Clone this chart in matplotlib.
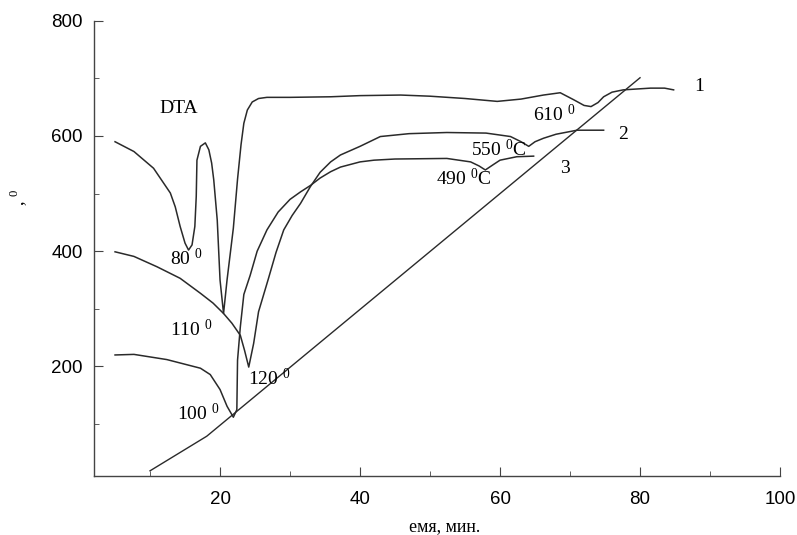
import numpy as np
import matplotlib
matplotlib.use("Agg")
import matplotlib.pyplot as plt
from matplotlib.ticker import MultipleLocator

plt.rcParams['mathtext.fontset'] = 'custom'
plt.rcParams['mathtext.rm'] = 'Liberation Serif'
plt.rcParams['mathtext.it'] = 'Liberation Serif:italic'

# curve 1 (DTA, upper)
x1 = [5.0, 7.7, 10.5, 12.9, 13.6, 14.3, 15.0, 15.5, 16.0, 16.4, 16.6, 16.7, 17.2, 17.9,
      18.4, 18.8, 19.1, 19.6, 20.0, 20.5, 21.0, 21.9, 22.5, 23.0, 23.4, 23.9, 24.6, 25.5,
      26.7, 30.0, 35.8, 40.0, 45.8, 50.0, 55.0, 59.6, 63.0, 66.2, 68.6, 70.5, 72.0, 73.0,
      74.0, 74.8, 76.0, 77.6, 81.5, 83.5, 84.8]
y1 = [590, 573, 544, 501, 477, 443, 414, 402, 411, 443, 495, 558, 582, 588,
      576, 553, 524, 454, 350, 292, 350, 440, 525, 585, 622, 645, 659, 665,
      667, 667, 668, 670, 671, 669, 665, 660, 664, 671, 675, 663, 653, 651,
      658, 668, 676, 680, 683, 683, 680]

# curve 2 (middle)
x2 = [5.0, 7.7, 11.0, 14.3, 17.2, 19.0, 20.5, 21.7, 22.9, 23.5, 24.1, 24.8, 25.5, 26.9,
      28.0, 29.1, 30.3, 31.5, 32.9, 34.3, 35.8, 37.2, 40.0, 42.9, 47.0, 52.4, 58.0, 61.5,
      63.0, 64.1, 65.0, 66.2, 68.0, 71.0, 74.8]
y2 = [399, 391, 373, 353, 327, 310, 292, 275, 254, 228, 199, 240, 295, 352,
      398, 437, 462, 483, 512, 537, 555, 567, 582, 599, 604, 606, 605, 599,
      590, 582, 590, 596, 603, 610, 610]

# curve 3 (lower)
x3 = [5.0, 7.7, 12.4, 17.2, 18.6, 20.0, 21.0, 21.9, 22.4, 22.5, 22.9, 23.4, 24.3, 25.3,
      26.7, 28.3, 30.0, 31.5, 32.9, 34.3, 35.8, 37.2, 40.0, 42.0, 45.0, 52.4, 55.8, 57.0,
      57.9, 59.0, 60.0, 62.4, 64.8]
y3 = [220, 221, 212, 197, 186, 160, 131, 112, 125, 211, 269, 325, 358, 400,
      437, 468, 490, 503, 514, 527, 538, 546, 555, 558, 560, 561, 555, 548,
      541, 550, 558, 564, 565]

# base line
xb = [10.0, 18.1, 80.0]
yb = [19, 79, 701]

# annotations: (x, y, text)
labels = [(12.9, 388, r'80 $^{\mathrm{0}}$'),
          (12.9, 264, r'110 $^{\mathrm{0}}$'),
          (13.9, 119, r'100 $^{\mathrm{0}}$'),
          (24.0, 180, r'120 $^{\mathrm{0}}$'),
          (64.7, 637, r'610 $^{\mathrm{0}}$'),
          (55.9, 576, r'550 $^{\mathrm{0}}$C'),
          (50.9, 526, r'490 $^{\mathrm{0}}$C'),
          (11.4, 647, 'DTA'),
          (87.8, 686, '1'),
          (76.8, 602, '2'),
          (68.6, 544, '3')]

fig = plt.figure(figsize=(7.97, 5.35), dpi=100)
ax = fig.add_axes([0.118, 0.1103, 0.8607, 0.851])

lc = '#2a2a2a'
ax.plot(x1, y1, color=lc, lw=1.1)
ax.plot(x2, y2, color=lc, lw=1.1)
ax.plot(x3, y3, color=lc, lw=1.1)
ax.plot(xb, yb, color=lc, lw=1.0)

for x, y, s in labels:
    ax.text(x, y, s, ha='left', va='center', fontsize=14, family='Liberation Serif')

ax.set_xlim(2, 100)
ax.set_ylim(10, 800)
ax.xaxis.set_major_locator(MultipleLocator(20))
ax.xaxis.set_minor_locator(MultipleLocator(10))
ax.yaxis.set_major_locator(MultipleLocator(200))
ax.yaxis.set_minor_locator(MultipleLocator(100))

for s in ['top', 'right']:
    ax.spines[s].set_visible(False)
for s in ['left', 'bottom']:
    ax.spines[s].set_color('#444444')
    ax.spines[s].set_linewidth(1.0)

ax.tick_params(which='both', direction='in', color='#444444')
ax.tick_params(which='major', length=6.5)
ax.tick_params(which='minor', length=3.3)
ax.tick_params(axis='x', pad=11)
ax.tick_params(axis='y', pad=8)
for t in ax.get_xticklabels() + ax.get_yticklabels():
    t.set_fontfamily('Liberation Sans')
    t.set_fontsize(13.5)

fig.text(0.558, 0.015, 'емя, мин.', ha='center', va='center', fontsize=13,
         family='Liberation Serif')
fig.text(0.024, 0.63, r', $^{\mathrm{0}}$', rotation=90, ha='center', va='center',
         fontsize=13, family='Liberation Serif')

fig.savefig('out.png', dpi=100)
